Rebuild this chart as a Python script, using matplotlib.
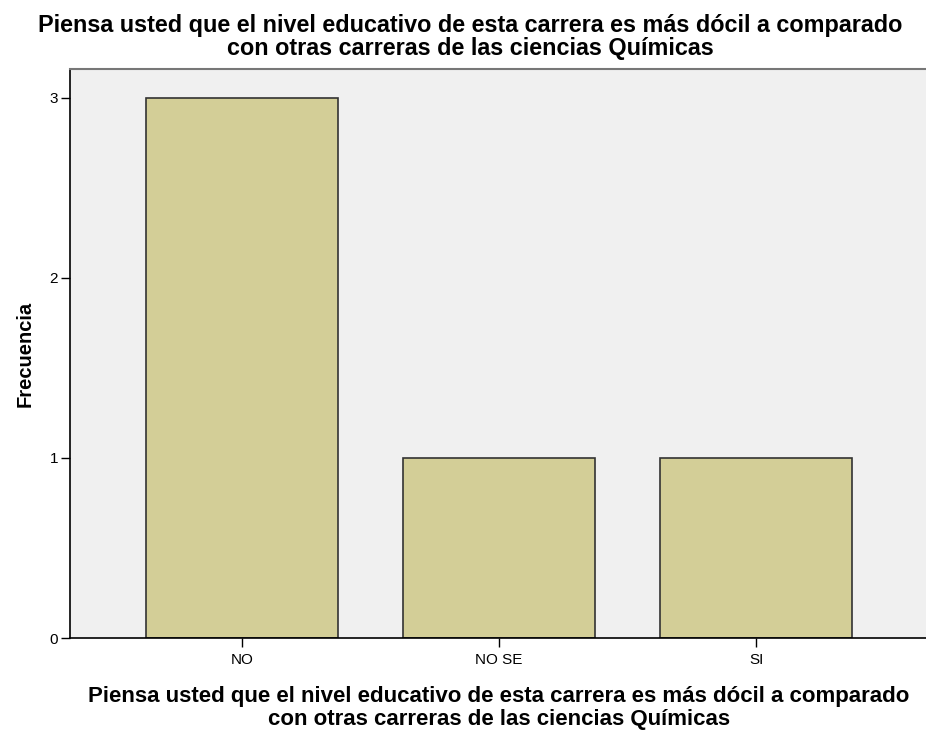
import matplotlib
matplotlib.use("Agg")
import matplotlib.pyplot as plt

categories = ["NO", "NO SE", "SI"]
frecuencia = [3, 1, 1]
y_ticks = [0, 1, 2, 3]
titulo = "Piensa usted que el nivel educativo de esta carrera es más dócil a comparado\ncon otras carreras de las ciencias Químicas"

plt.rcParams['font.family'] = ['Liberation Sans', 'DejaVu Sans']

fig = plt.figure(figsize=(9.26, 7.32), dpi=100)
ax = fig.add_axes([0.0756, 0.1284, 0.9266, 0.7773])
ax.set_facecolor('#F0F0F0')

x = range(len(categories))
ax.bar(x, frecuencia, width=0.747, color='#D3CE97', edgecolor='#333333', linewidth=1.2, zorder=2)

ax.set_xlim(-0.669, 2.669)
ax.set_ylim(0, 3.16)
ax.set_xticks(list(x))
ax.set_xticklabels(categories, fontsize=11)
ax.set_yticks(y_ticks)
ax.set_yticklabels([str(t) for t in y_ticks], fontsize=11)
ax.tick_params(direction='out', length=6.5, width=1, color='black', pad=2)
ax.tick_params(axis='x', pad=4)

for side in ['left', 'bottom']:
    ax.spines[side].set_color('black')
    ax.spines[side].set_linewidth(1.2)
ax.spines['top'].set_color('#777777')
ax.spines['top'].set_linewidth(1.5)
ax.spines['right'].set_visible(False)

ax.set_ylabel('Frecuencia', fontsize=14.5, fontweight='bold', labelpad=11)
ax.set_xlabel(titulo, fontsize=16, fontweight='bold', labelpad=14, linespacing=1.12)
fig.text(0.508, 0.981, titulo, ha='center', va='top', fontsize=16.8, fontweight='bold', linespacing=0.98)

fig.savefig('out.png', dpi=100)
